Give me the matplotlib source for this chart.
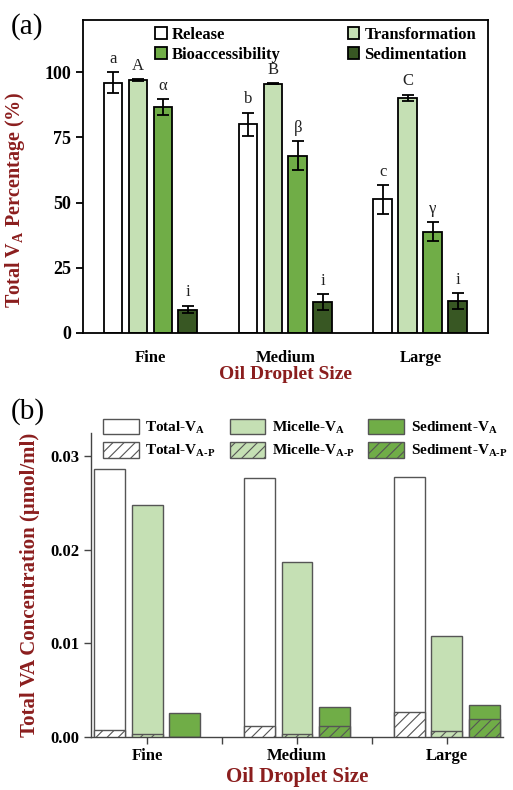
import matplotlib.pyplot as plt
import numpy as np

plt.rcParams['font.family'] = ['Liberation Serif', 'DejaVu Serif']
plt.rcParams['mathtext.fontset'] = 'custom'
plt.rcParams['mathtext.rm'] = 'Liberation Serif:bold'
plt.rcParams['mathtext.bf'] = 'Liberation Serif:bold'
plt.rcParams['mathtext.it'] = 'Liberation Serif:bold'
plt.rcParams['hatch.linewidth'] = 0.8

sizes = ["Fine", "Medium", "Large"]

# panel (a): percentages
series_a = ["Release", "Transformation", "Bioaccessibility", "Sedimentation"]
vals_a = {
    "Release": [96, 80, 51.2],
    "Transformation": [97, 95.6, 90.2],
    "Bioaccessibility": [86.6, 68, 38.9],
    "Sedimentation": [9, 12, 12.3],
}
errs_a = {
    "Release": [4, 4.5, 5.5],
    "Transformation": [0.3, 0.3, 1.2],
    "Bioaccessibility": [3, 5.5, 3.5],
    "Sedimentation": [1.5, 3, 3],
}
letters_a = {
    "Release": ["a", "b", "c"],
    "Transformation": ["A", "B", "C"],
    "Bioaccessibility": ["α", "β", "γ"],
    "Sedimentation": ["i", "i", "i"],
}

# panel (b): concentrations (umol/ml)
conc_total = [0.0287, 0.0277, 0.0278]
conc_micelle = [0.0248, 0.0187, 0.0108]
conc_sediment = [0.00253, 0.00323, 0.00338]
conc_total_p = [0.00075, 0.00117, 0.0027]
conc_micelle_p = [0.0003, 0.00035, 0.0006]
conc_sediment_p = [0.0, 0.0012, 0.0019]

colors = {
    "Release": "white",
    "Transformation": "#C5E0B4",
    "Bioaccessibility": "#70AD47",
    "Sedimentation": "#385723",
}
colors_b = ["white", "#C5E0B4", "#70AD47"]
dark_red = "#8B1E1E"

fig = plt.figure(figsize=(5.13, 7.9), dpi=100)

# ---------------- (a) ----------------
ax = fig.add_axes([0.1618, 0.5785, 0.951 - 0.1618, 0.9747 - 0.5785])
x = np.arange(len(sizes))
w = 0.14
step = 0.185
for i, s in enumerate(series_a):
    pos = x + (i - 1.5) * step
    ax.bar(pos, vals_a[s], w, color=colors[s], edgecolor="black", linewidth=1.3,
           yerr=errs_a[s], capsize=4, error_kw=dict(elinewidth=1.3, capthick=1.3),
           label=s, zorder=2)
    for p, v, e, t in zip(pos, vals_a[s], errs_a[s], letters_a[s]):
        ax.text(p, v + e + 2, t, ha="center", va="bottom", fontsize=12,
                color="#222222")

ax.set_xlim(-0.5, 2.5)
ax.set_ylim(0, 120)
ax.set_yticks([0, 25, 50, 75, 100])
ax.set_xticks(x)
ax.set_xticklabels(sizes)
ax.tick_params(axis="x", length=0, pad=12)
ax.tick_params(axis="y", length=5, width=1.3, direction="out")
for lab in ax.get_xticklabels():
    lab.set_fontweight("bold")
    lab.set_fontsize(12)
for lab in ax.get_yticklabels():
    lab.set_fontweight("bold")
    lab.set_fontsize(13)
for sp in ax.spines.values():
    sp.set_linewidth(1.3)
ax.set_ylabel("Total V$_{\\rm A}$ Percentage (%)", color=dark_red, fontsize=14.5,
              fontweight="bold")
ax.yaxis.set_label_coords(-0.138, 0.425)
ax.set_xlabel("Oil Droplet Size", color=dark_red, fontsize=14, fontweight="bold",
              labelpad=0)

h, l = ax.get_legend_handles_labels()
order = [0, 2, 1, 3]
ax.legend([h[k] for k in order], [l[k] for k in order], ncol=2,
          loc="upper left", bbox_to_anchor=(0.15, 1.015), frameon=False,
          handlelength=0.7, handleheight=0.7, handletextpad=0.3,
          columnspacing=4.0, labelspacing=0.25, borderaxespad=0.3,
          prop=dict(weight="bold", size=12))
fig.text(0.02, 0.958, "(a)", fontsize=21)

# ---------------- (b) ----------------
bx = fig.add_axes([0.1774, 0.0671, 0.9805 - 0.1774, 0.4519 - 0.0671])
wb = 0.205
stepb = 0.25
full = [conc_total, conc_micelle, conc_sediment]
part = [conc_total_p, conc_micelle_p, conc_sediment_p]
labels_full = ["Total-V$_{\\rm A}$", "Micelle-V$_{\\rm A}$", "Sediment-V$_{\\rm A}$"]
labels_part = ["Total-V$_{\\rm A\\text{-}P}$", "Micelle-V$_{\\rm A\\text{-}P}$",
               "Sediment-V$_{\\rm A\\text{-}P}$"]
handles = []
labels = []
for i in range(3):
    pos = x + (i - 1) * stepb
    b1 = bx.bar(pos, full[i], wb, color=colors_b[i], edgecolor="#555555",
                linewidth=1.0, zorder=2)
    b2 = bx.bar(pos, part[i], wb, color=colors_b[i], edgecolor="#555555",
                linewidth=1.0, hatch="///", zorder=3)
    handles += [b1, b2]
    labels += [labels_full[i], labels_part[i]]

bx.set_xlim(-0.375, 2.375)
bx.set_ylim(0, 0.0325)
bx.set_yticks([0, 0.01, 0.02, 0.03])
bx.set_yticklabels(["0.00", "0.01", "0.02", "0.03"])
bx.set_xticks(x)
bx.set_xticklabels(sizes)
bx.set_xticks([0.5, 1.5], minor=True)
bx.tick_params(axis="both", which="both", length=5, width=1.0, color="#444444")
bx.tick_params(axis="x", pad=3)
for lab in bx.get_xticklabels() + bx.get_yticklabels():
    lab.set_fontweight("bold")
    lab.set_fontsize(12)
for side in ["top", "right"]:
    bx.spines[side].set_visible(False)
for side in ["left", "bottom"]:
    bx.spines[side].set_color("#444444")
    bx.spines[side].set_linewidth(1.0)
bx.set_ylabel("Total VA Concentration (μmol/ml)", color=dark_red, fontsize=15,
              fontweight="bold", labelpad=7)
bx.set_xlabel("Oil Droplet Size", color=dark_red, fontsize=15, fontweight="bold",
              labelpad=2)
bx.legend(handles, labels, ncol=3, loc="upper left",
          bbox_to_anchor=(0.03, 1.047), frameon=False, borderpad=0,
          borderaxespad=0, handlelength=2.3, handleheight=1.2,
          handletextpad=0.45, columnspacing=0.9, labelspacing=0.42,
          prop=dict(weight="bold", size=11))
fig.text(0.02, 0.47, "(b)", fontsize=21)

fig.savefig("out.png", dpi=100)
